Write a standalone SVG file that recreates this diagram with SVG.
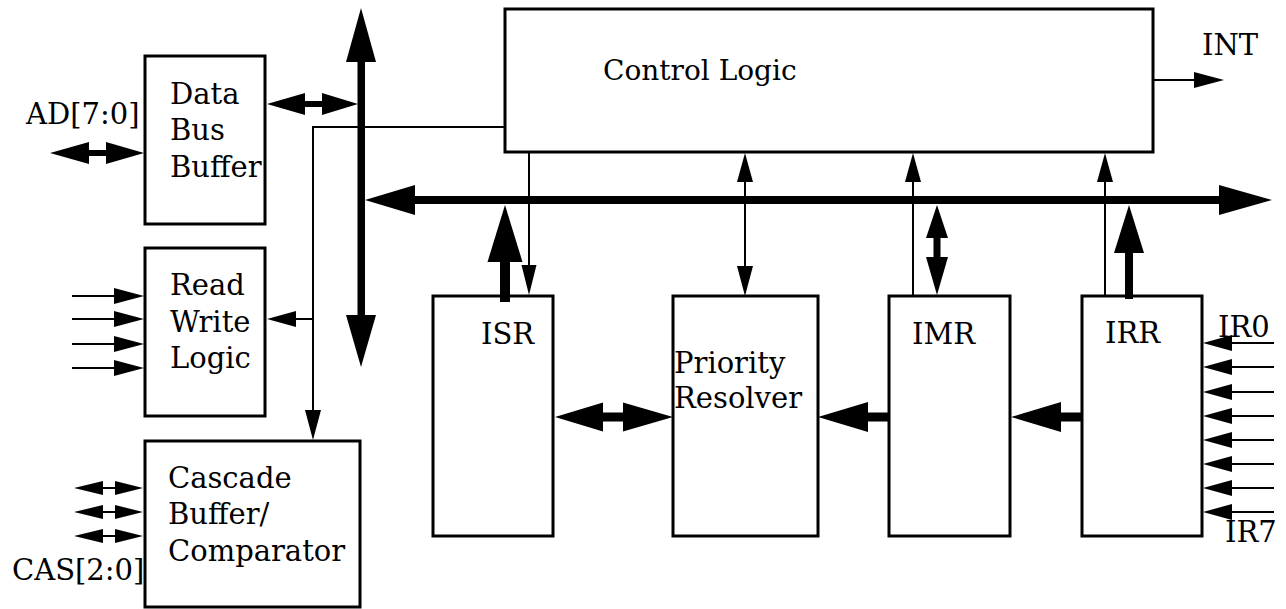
<svg xmlns="http://www.w3.org/2000/svg" width="1286" height="609" viewBox="0 0 1286 609">
<style>
.box{fill:#fff;stroke:#000;stroke-width:3}
.t{font-family:"DejaVu Serif","Liberation Serif",serif;font-size:29px;fill:#000}
.thin{stroke:#000;stroke-width:2;fill:none}
.fill{fill:#000;stroke:none}
</style>
<rect width="1286" height="609" fill="#fff"/>
<g id="control-logic"><rect class="box" x="505" y="9" width="648" height="143"/><text class="t" x="603" y="80" style="font-size:28px">Control Logic</text></g>
<g id="data-bus-buffer"><rect class="box" x="145" y="56" width="120" height="168"/><text class="t" x="170" y="104">Data</text><text class="t" x="170" y="140">Bus</text><text class="t" x="170" y="177">Buffer</text></g>
<g id="read-write-logic"><rect class="box" x="145" y="248" width="120" height="168"/><text class="t" x="170" y="295">Read</text><text class="t" x="170" y="332">Write</text><text class="t" x="170" y="368">Logic</text></g>
<g id="cascade"><rect class="box" x="145" y="441" width="215" height="166"/><text class="t" x="168" y="488">Cascade</text><text class="t" x="168" y="524">Buffer/</text><text class="t" x="168" y="561">Comparator</text></g>
<g id="isr"><rect class="box" x="433" y="296" width="120" height="240"/><text class="t" x="481" y="344">ISR</text></g>
<g id="priority-resolver"><rect class="box" x="673" y="296" width="145" height="240"/><text class="t" x="674" y="373">Priority</text><text class="t" x="674" y="408">Resolver</text></g>
<g id="imr"><rect class="box" x="889" y="296" width="121" height="240"/><text class="t" x="912" y="344">IMR</text></g>
<g id="irr"><rect class="box" x="1082" y="296" width="120" height="240"/><text class="t" x="1105" y="343">IRR</text></g>
<g id="labels">
<text class="t" x="26" y="124">AD[7:0]</text>
<text class="t" x="12" y="580">CAS[2:0]</text>
<text class="t" x="1202" y="55">INT</text>
<text class="t" x="1218" y="337">IR0</text>
<text class="t" x="1225" y="542">IR7</text>
</g>
<g id="connectors">
<!-- vertical bus -->
<rect class="fill" x="357.5" y="60" width="7.5" height="257"/>
<polygon class="fill" points="361,8 376,62 346,62"/>
<polygon class="fill" points="346,315 376,315 361,367"/>
<!-- horizontal bus -->
<rect class="fill" x="413" y="196" width="808" height="8"/>
<polygon class="fill" points="365,200 415,185 415,215"/>
<polygon class="fill" points="1272,200 1219,185 1219,215"/>
<!-- DBB <-> bus -->
<rect class="fill" x="303" y="101" width="21" height="6"/>
<polygon class="fill" points="267,104 305,93 305,115"/>
<polygon class="fill" points="358,104 322,93 322,115"/>
<!-- AD -->
<rect class="fill" x="87" y="150" width="21" height="6"/>
<polygon class="fill" points="50,153 89,142 89,164"/>
<polygon class="fill" points="144,153 106,142 106,164"/>
<!-- RWL inputs -->
<path class="thin" d="M72,296H116M72,319H116M72,344H116M72,368H116"/>
<polygon class="fill" points="144,296 114,288 114,304"/>
<polygon class="fill" points="144,319 114,311 114,327"/>
<polygon class="fill" points="144,344 114,336 114,352"/>
<polygon class="fill" points="144,368 114,360 114,376"/>
<!-- control line to RWL and cascade -->
<path class="thin" d="M505,127H313V412M313,319H294"/>
<polygon class="fill" points="267,319 296,311 296,327"/>
<polygon class="fill" points="313,440 305,410 321,410"/>
<!-- CAS -->
<path class="thin" d="M100,488H118M100,512H118M100,536H118"/>
<polygon class="fill" points="74,488 103,481 103,495"/>
<polygon class="fill" points="143,488 115,481 115,495"/>
<polygon class="fill" points="74,512 103,505 103,519"/>
<polygon class="fill" points="143,512 115,505 115,519"/>
<polygon class="fill" points="74,536 103,529 103,543"/>
<polygon class="fill" points="143,536 115,529 115,543"/>
<!-- INT -->
<path class="thin" d="M1153,80H1196"/>
<polygon class="fill" points="1224,80 1194,72 1194,88"/>
<!-- IR inputs -->
<path class="thin" d="M1230,343H1274M1230,367H1274M1230,392H1274M1230,416H1274M1230,440H1274M1230,464H1274M1230,488H1274M1230,512H1274"/>
<polygon class="fill" points="1203,343 1232,335 1232,351"/>
<polygon class="fill" points="1203,367 1232,359 1232,375"/>
<polygon class="fill" points="1203,392 1232,384 1232,400"/>
<polygon class="fill" points="1203,416 1232,408 1232,424"/>
<polygon class="fill" points="1203,440 1232,432 1232,448"/>
<polygon class="fill" points="1203,464 1232,456 1232,472"/>
<polygon class="fill" points="1203,488 1232,480 1232,496"/>
<polygon class="fill" points="1203,512 1232,504 1232,520"/>
<!-- ISR <-> Priority -->
<rect class="fill" x="601" y="412.5" width="24" height="9"/>
<polygon class="fill" points="555,417 603,402.5 603,431.5"/>
<polygon class="fill" points="673,417 623,402.5 623,431.5"/>
<!-- IMR -> Priority -->
<rect class="fill" x="866" y="412.5" width="23" height="9"/>
<polygon class="fill" points="818,417 868,402 868,432"/>
<!-- IRR -> IMR -->
<rect class="fill" x="1059" y="412.5" width="24" height="9"/>
<polygon class="fill" points="1011,417 1061,402 1061,432"/>
<!-- ISR up to bus -->
<rect class="fill" x="500" y="260" width="10" height="42"/>
<polygon class="fill" points="505,205 522.5,262 487.5,262"/>
<!-- IMR <-> bus -->
<rect class="fill" x="933.5" y="236" width="7" height="23"/>
<polygon class="fill" points="937,205 948,238 926,238"/>
<polygon class="fill" points="926,257 948,257 937,295"/>
<!-- IRR up to bus -->
<rect class="fill" x="1125" y="251" width="8" height="48"/>
<polygon class="fill" points="1129,205 1144,253 1114,253"/>
<!-- thin control lines -->
<path class="thin" d="M529,152V267"/>
<polygon class="fill" points="521.5,265 536.5,265 529,295"/>
<path class="thin" d="M745,180V268"/>
<polygon class="fill" points="745,153 737,182 753,182"/>
<polygon class="fill" points="737,266 753,266 745,296"/>
<path class="thin" d="M913,180V296"/>
<polygon class="fill" points="913,153 905,182 921,182"/>
<path class="thin" d="M1105,180V296"/>
<polygon class="fill" points="1105,153 1097,182 1113,182"/>
</g>
</svg>
